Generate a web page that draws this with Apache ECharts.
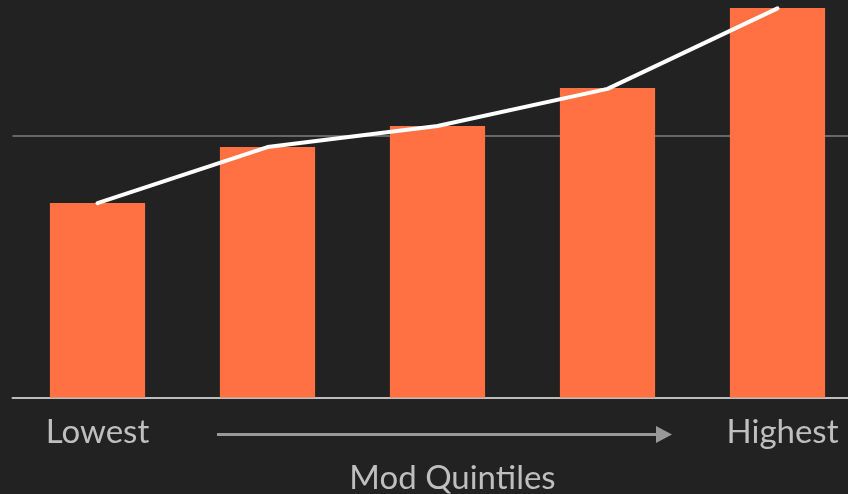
<!DOCTYPE html>
<html>
<head>
<meta charset="utf-8">
<script src="https://cdn.jsdelivr.net/npm/echarts@6/dist/echarts.min.js"></script>
<style>
  html, body { margin: 0; padding: 0; background: #222222; }
  #chart { width: 848px; height: 494px; }
</style>
</head>
<body>
<div id="chart"></div>
<script>
// quintile categories and their values
const categories = ["Lowest", "Q2", "Q3", "Q4", "Highest"];
const shownLabels = ["Lowest", "Highest"];
const barValues = [0.742, 0.956, 1.036, 1.181, 1.487];
const lineValues = [0.742, 0.956, 1.036, 1.178, 1.485];

const chart = echarts.init(document.getElementById("chart"));

const option = {
  backgroundColor: "#222222",
  animation: false,
  grid: {
    left: 12.5,
    top: 4.5,
    width: 850,
    height: 393,
    outerBoundsMode: "none",
    containLabel: false,
  },
  xAxis: {
    type: "category",
    data: categories,
    boundaryGap: true,
    axisTick: { show: false },
    axisLine: {
      show: true,
      lineStyle: { color: "#BDBDBD", width: 2 },
    },
    axisLabel: {
      interval: 0,
      margin: 18,
      color: "#BFBFBF",
      fontFamily: "Lato",
      fontSize: 33,
      formatter: function (value) {
        if (value === "Highest") return "{hi|" + value + "}";
        return shownLabels.includes(value) ? value : "";
      },
      rich: {
        hi: {
          color: "#BFBFBF",
          fontFamily: "Lato",
          fontSize: 33,
          padding: [0, 0, 0, 10],
        },
      },
    },
    name: "Mod Quintiles",
    nameLocation: "middle",
    nameGap: 64.5,
    nameTextStyle: {
      color: "#BFBFBF",
      fontFamily: "Lato",
      fontSize: 33,
      padding: [0, 0, 0, 30],
    },
  },
  yAxis: {
    type: "value",
    min: 0,
    max: 1.5,
    interval: 1,
    axisLabel: { show: false },
    axisLine: { show: false },
    axisTick: { show: false },
    splitLine: {
      show: true,
      showMinLine: false,
      showMaxLine: false,
      lineStyle: { color: "#7F7F7F", width: 1.5 },
    },
  },
  graphic: [
    {
      type: "line",
      shape: { x1: 217, y1: 434.5, x2: 658, y2: 434.5 },
      style: { stroke: "#999999", lineWidth: 3 },
    },
    {
      type: "polygon",
      shape: { points: [[656, 426], [672, 434.5], [656, 443]] },
      style: { fill: "#999999" },
    },
  ],
  series: [
    {
      name: "Bars",
      type: "bar",
      barWidth: "56%",
      itemStyle: { color: "#FF7043" },
      data: barValues,
      z: 2,
    },
    {
      name: "Trend",
      type: "line",
      showSymbol: false,
      symbol: "none",
      clip: false,
      lineStyle: { color: "#FFFFFF", width: 4, cap: "round", join: "round" },
      data: lineValues,
      z: 3,
    },
  ],
};

chart.setOption(option);
</script>
</body>
</html>
